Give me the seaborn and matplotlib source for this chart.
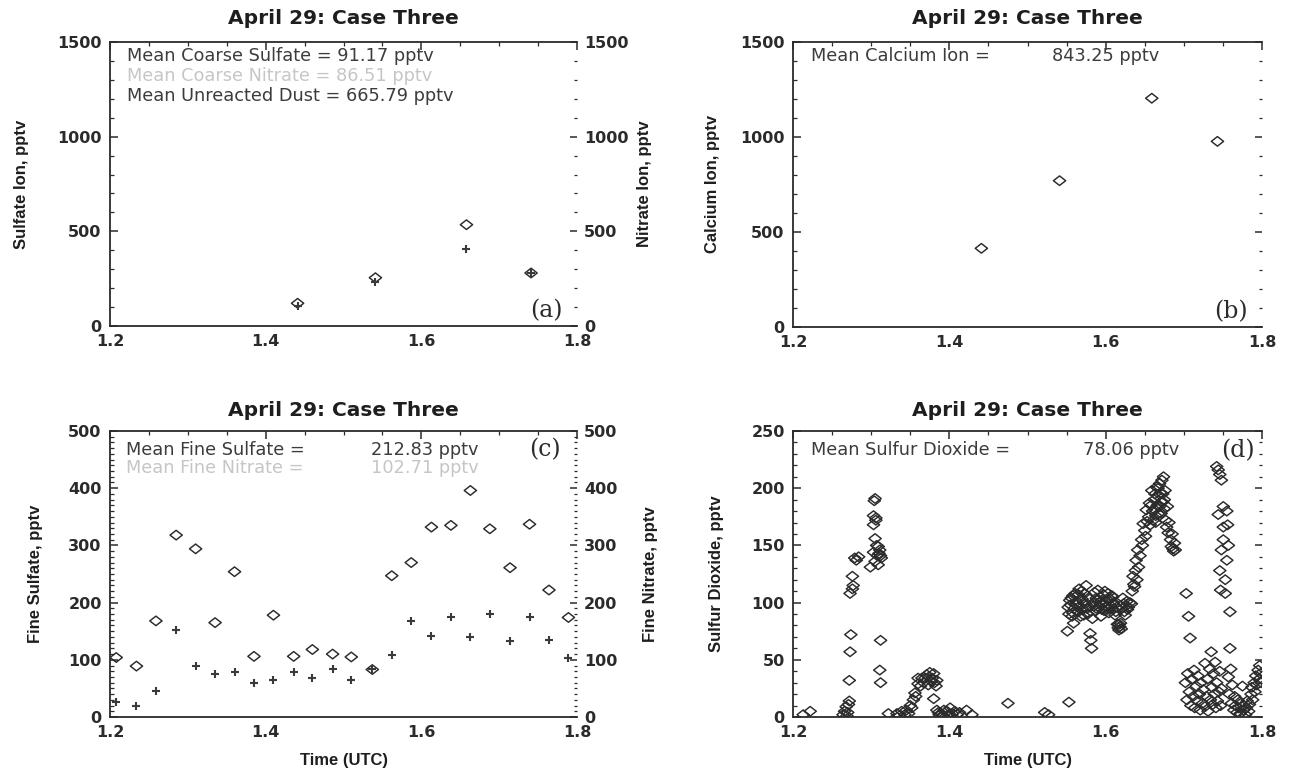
import matplotlib
matplotlib.use("Agg")
import matplotlib.pyplot as plt
import seaborn as sns
from matplotlib.path import Path
from matplotlib.ticker import MultipleLocator, FixedLocator

# ---------------- data ----------------
title_text = "April 29: Case Three"
x_ticks = [1.2, 1.4, 1.6, 1.8]
x_tick_labels = ["1.2", "1.4", "1.6", "1.8"]

# (a) coarse particles
a_time = [1.441, 1.541, 1.658, 1.741]
a_sulfate = [120, 255, 535, 280]
a_nitrate = [105, 230, 405, 278]
a_lines = ["Mean Coarse Sulfate = 91.17 pptv",
           "Mean Coarse Nitrate = 86.51 pptv",
           "Mean Unreacted Dust = 665.79 pptv"]

# (b) calcium
b_time = [1.441, 1.541, 1.659, 1.743]
b_calcium = [414, 770, 1204, 977]
b_label = ["Mean Calcium Ion =", "843.25 pptv"]

# (c) fine particles
c_time = [1.208, 1.234, 1.259, 1.285, 1.310, 1.335, 1.360, 1.385, 1.410, 1.436,
          1.460, 1.486, 1.510, 1.537, 1.562, 1.587, 1.613, 1.638, 1.663, 1.688,
          1.714, 1.739, 1.764, 1.789]
c_sulfate = [104, 89, 168, 318, 294, 165, 254, 106, 178, 106,
             118, 110, 105, 83, 247, 270, 332, 335, 396, 329,
             261, 337, 222, 174]
c_nitrate = [26, 20, 45, 152, 90, 76, 78, 59, 65, 78,
             68, 84, 64, 84, 108, 168, 142, 175, 140, 180,
             133, 174, 134, 104]
c_label1 = ["Mean Fine Sulfate =", "212.83 pptv"]
c_label2 = ["Mean Fine Nitrate =", "102.71 pptv"]

# (d) sulfur dioxide
d_time = [
    1.213, 1.222,
    1.264, 1.266, 1.268, 1.270, 1.272, 1.271, 1.272, 1.273, 1.274, 1.273, 1.276, 1.277, 1.276, 1.279, 1.284, 1.281, 1.269,
    1.305, 1.303, 1.306, 1.303, 1.305, 1.309, 1.311, 1.303, 1.308, 1.313, 1.305, 1.309, 1.299, 1.310, 1.307, 1.312, 1.304, 1.306, 1.312, 1.311, 1.312,
    1.322, 1.333, 1.336, 1.339, 1.343, 1.345, 1.348, 1.350, 1.352, 1.354, 1.356, 1.357, 1.360, 1.360, 1.363, 1.365, 1.367, 1.369, 1.371, 1.373,
    1.374, 1.375, 1.377, 1.378, 1.380, 1.381, 1.383, 1.384, 1.380, 1.384, 1.387, 1.390, 1.393, 1.397, 1.399, 1.401, 1.404, 1.407, 1.410, 1.413,
    1.422, 1.429, 1.386, 1.392,
    1.475, 1.522, 1.527, 1.553,
    1.551, 1.553, 1.555, 1.556, 1.557, 1.559, 1.560, 1.561, 1.563, 1.564,
    1.566, 1.567, 1.568, 1.570, 1.571, 1.573, 1.574, 1.575, 1.577, 1.578,
    1.579, 1.580, 1.581, 1.582, 1.583, 1.584, 1.586, 1.587, 1.589, 1.590,
    1.591, 1.593, 1.594, 1.596, 1.597, 1.598, 1.600, 1.601, 1.603, 1.604,
    1.606, 1.607, 1.609, 1.610, 1.612, 1.614, 1.615, 1.616, 1.618, 1.619,
    1.620, 1.621, 1.623, 1.624, 1.626, 1.627, 1.629, 1.631,
    1.552, 1.554, 1.558, 1.562, 1.565, 1.569, 1.572, 1.576, 1.585, 1.588,
    1.592, 1.595, 1.599, 1.602, 1.605, 1.608, 1.611, 1.613, 1.617, 1.622,
    1.625, 1.628, 1.558, 1.565, 1.572, 1.588, 1.595, 1.602, 1.609, 1.617,
    1.633, 1.634, 1.635, 1.636, 1.637, 1.638, 1.639, 1.640, 1.641, 1.642,
    1.644, 1.646, 1.647, 1.648, 1.650, 1.651, 1.652, 1.653, 1.655, 1.656,
    1.657, 1.659, 1.660, 1.661, 1.662, 1.663, 1.664, 1.665, 1.666, 1.667,
    1.668, 1.669, 1.670, 1.671, 1.672, 1.673, 1.674, 1.675, 1.676, 1.677,
    1.678, 1.679, 1.680, 1.681, 1.683, 1.684, 1.685, 1.686, 1.687, 1.688,
    1.689,
    1.658, 1.663, 1.667, 1.671, 1.675, 1.664, 1.669, 1.673,
    1.702, 1.704, 1.705, 1.707, 1.709, 1.710, 1.712, 1.713, 1.714, 1.716,
    1.717, 1.718, 1.720, 1.721, 1.722, 1.724, 1.725, 1.727, 1.727, 1.729,
    1.730, 1.731, 1.733, 1.734, 1.735, 1.736, 1.737, 1.738, 1.739, 1.740,
    1.741, 1.742, 1.743, 1.745, 1.746, 1.747, 1.748,
    1.703, 1.706, 1.708,
    1.742, 1.744, 1.746, 1.748, 1.744, 1.7505, 1.755, 1.7505, 1.756, 1.7505,
    1.757, 1.748, 1.755, 1.746, 1.753, 1.747, 1.753, 1.759, 1.759,
    1.757, 1.758, 1.760, 1.761, 1.762, 1.764, 1.765, 1.766, 1.768, 1.769,
    1.770, 1.772, 1.773, 1.775, 1.776, 1.777, 1.779, 1.780, 1.781, 1.783,
    1.784, 1.786, 1.787, 1.788, 1.790, 1.791, 1.792, 1.793, 1.795, 1.796,
    1.797, 1.798, 1.799,
]
d_so2 = [
    2, 5,
    2, 5, 9, 4, 14, 11, 32, 57, 72, 108, 112, 115, 123, 139, 140, 137, 1,
    191, 176, 172, 168, 156, 149, 146, 144, 141, 139, 136, 133, 131, 143, 150, 141, 189, 174, 67, 41, 30,
    3, 3, 1, 5, 2, 6, 3, 10, 8, 15, 21, 18, 29, 34, 27, 34, 30, 34, 37, 28,
    35, 39, 31, 34, 38, 30, 27, 32, 16, 6, 2, 3, 6, 5, 2, 8, 3, 5, 2, 4,
    6, 2, 4, 1,
    12, 4, 2, 13,
    75, 90, 98, 104, 88, 82, 95, 108, 101, 92,
    112, 97, 88, 103, 94, 108, 99, 115, 90, 104,
    96, 73, 67, 60, 86, 100, 109, 93, 102, 111,
    96, 105, 88, 99, 107, 93, 101, 96, 108, 91,
    103, 97, 94, 100, 89, 96, 81, 78, 79, 82,
    77, 95, 99, 92, 97, 101, 96, 100,
    96, 102, 106, 98, 92, 110, 100, 95, 97, 104,
    100, 94, 110, 103, 95, 106, 98, 92, 76, 104,
    89, 94, 91, 107, 89, 95, 102, 94, 105, 81,
    99, 110, 123, 116, 114, 128, 137, 120, 146, 131,
    141, 155, 150, 169, 163, 158, 181, 171, 175, 187,
    168, 198, 180, 172, 190, 181, 176, 201, 185, 193,
    178, 184, 196, 178, 207, 188, 210, 190, 198, 172,
    166, 184, 161, 170, 155, 149, 160, 147, 145, 152,
    146,
    185, 195, 200, 188, 182, 170, 204, 195,
    30, 15, 38, 22, 10, 33, 18, 41, 8, 27,
    14, 36, 20, 6, 30, 12, 24, 47, 9, 18,
    33, 5, 42, 15, 57, 26, 11, 38, 20, 48,
    8, 30, 14, 22, 40, 10, 25,
    108, 88, 69,
    219, 216, 212, 207, 177, 184, 180, 166, 168, 155,
    150, 146, 137, 128, 120, 111, 108, 92, 60,
    35, 20, 42, 12, 28, 6, 18, 10, 4, 15,
    8, 3, 12, 27, 6, 10, 2, 8, 14, 5,
    11, 20, 26, 15, 30, 22, 36, 28, 41, 33,
    45, 38, 30,
]
d_label = ["Mean Sulfur Dioxide =", "78.06 pptv"]

# ---------------- style ----------------
sns.set_theme(style="white")
plt.rcParams["font.family"] = ["DejaVu Sans"]

W, H = 1297, 772
fig = plt.figure(figsize=(W / 100, H / 100), dpi=100)
fig.patch.set_facecolor("white")


def rect(l, r, t, b):
    return [l / W, 1 - b / H, (r - l) / W, (b - t) / H]


INK = "#2b2b2b"
TXT = "#3c3c3c"
FADED = "#c6c6c6"
diamond = Path([(-1, 0), (0, 0.78), (1, 0), (0, -0.78), (-1, 0)],
               [Path.MOVETO, Path.LINETO, Path.LINETO, Path.LINETO, Path.CLOSEPOLY])
tick_font = dict(fontsize=11.5, fontweight="bold", color="#222222")
note_size = 12.8


def style_axes(ax, ymax, ymaj, ymin):
    ax.set_xlim(1.2, 1.8)
    ax.set_ylim(0, ymax)
    ax.xaxis.set_major_locator(FixedLocator(x_ticks))
    ax.set_xticklabels(x_tick_labels, **tick_font)
    ax.xaxis.set_minor_locator(MultipleLocator(0.05))
    ax.yaxis.set_major_locator(MultipleLocator(ymaj))
    ax.yaxis.set_minor_locator(MultipleLocator(ymin))
    ax.set_yticks(ax.get_yticks())
    ax.set_yticklabels([f"{int(v)}" for v in ax.get_yticks()], **tick_font)
    ax.set_ylim(0, ymax)
    ax.tick_params(which="major", direction="in", length=6, width=1.1,
                   top=True, right=False, colors=INK, pad=6)
    ax.tick_params(which="minor", direction="in", length=3, width=0.9,
                   top=True, right=False, colors=INK)
    for s in ["left", "bottom", "top"]:
        ax.spines[s].set_color(INK)
        ax.spines[s].set_linewidth(1.3)
    ax.spines["right"].set_visible(False)
    ax.set_xlabel("")
    ax.set_ylabel("")
    ax.set_facecolor("white")


def right_ticks(ax, ymax, ymaj, ymin, labels):
    axr = ax.twinx()
    axr.set_ylim(0, ymax)
    axr.yaxis.set_major_locator(MultipleLocator(ymaj))
    axr.yaxis.set_minor_locator(MultipleLocator(ymin))
    axr.set_yticks(axr.get_yticks())
    if labels:
        axr.set_yticklabels([f"{int(v)}" for v in axr.get_yticks()], **tick_font)
    else:
        axr.set_yticklabels([])
    axr.set_ylim(0, ymax)
    axr.tick_params(which="major", direction="in", length=5, width=1.1,
                    colors=INK, pad=5)
    axr.tick_params(which="minor", direction="in", length=2.5, width=0.9, colors=INK)
    for s in axr.spines.values():
        s.set_visible(False)
    axr.set_ylabel("")
    return axr


def diamonds(ax, x, y, s=78):
    sns.scatterplot(x=x, y=y, ax=ax, marker=diamond, s=s, facecolor="none",
                    edgecolor=INK, linewidth=1.05, legend=False, zorder=3)


def pluses(ax, x, y):
    sns.scatterplot(x=x, y=y, ax=ax, marker="+", s=26, color="#3a3a3a",
                    linewidth=1.5, legend=False, zorder=3)


ax_a = fig.add_axes(rect(110, 577, 42, 326))
ax_b = fig.add_axes(rect(793, 1262, 42, 327))
ax_c = fig.add_axes(rect(110, 577, 431, 717))
ax_d = fig.add_axes(rect(793, 1262, 431, 717))

# (a)
diamonds(ax_a, a_time, a_sulfate)
style_axes(ax_a, 1500, 500, 100)
axr_a = right_ticks(ax_a, 1500, 500, 100, True)
pluses(axr_a, a_time, a_nitrate)
axr_a.set_xlim(1.2, 1.8)
axr_a.set_ylim(0, 1500)
axr_a.set_ylabel("")
ax_a.text(0.036, 0.951, a_lines[0], transform=ax_a.transAxes, fontsize=note_size, color=TXT, va="center")
ax_a.text(0.036, 0.880, a_lines[1], transform=ax_a.transAxes, fontsize=note_size, color=FADED, va="center")
ax_a.text(0.036, 0.810, a_lines[2], transform=ax_a.transAxes, fontsize=note_size, color=TXT, va="center")
ax_a.text(0.97, 0.015, "(a)", transform=ax_a.transAxes, fontsize=17, family="DejaVu Serif",
          color=INK, ha="right", va="bottom")

# (b)
diamonds(ax_b, b_time, b_calcium)
style_axes(ax_b, 1500, 500, 100)
right_ticks(ax_b, 1500, 500, 100, False)
ax_b.text(0.038, 0.951, b_label[0], transform=ax_b.transAxes, fontsize=note_size, color=TXT, va="center")
ax_b.text(0.552, 0.951, b_label[1], transform=ax_b.transAxes, fontsize=note_size, color=TXT, va="center")
ax_b.text(0.97, 0.015, "(b)", transform=ax_b.transAxes, fontsize=17, family="DejaVu Serif",
          color=INK, ha="right", va="bottom")

# (c)
diamonds(ax_c, c_time, c_sulfate)
style_axes(ax_c, 500, 100, 10)
axr_c = right_ticks(ax_c, 500, 100, 10, True)
pluses(axr_c, c_time, c_nitrate)
axr_c.set_xlim(1.2, 1.8)
axr_c.set_ylim(0, 500)
axr_c.set_ylabel("")
ax_c.text(0.034, 0.934, c_label1[0], transform=ax_c.transAxes, fontsize=note_size, color=TXT, va="center")
ax_c.text(0.559, 0.934, c_label1[1], transform=ax_c.transAxes, fontsize=note_size, color=TXT, va="center")
ax_c.text(0.034, 0.871, c_label2[0], transform=ax_c.transAxes, fontsize=note_size, color=FADED, va="center")
ax_c.text(0.559, 0.871, c_label2[1], transform=ax_c.transAxes, fontsize=note_size, color=FADED, va="center")
ax_c.text(0.965, 0.975, "(c)", transform=ax_c.transAxes, fontsize=17, family="DejaVu Serif",
          color=INK, ha="right", va="top")

# (d)
diamonds(ax_d, d_time, d_so2)
style_axes(ax_d, 250, 50, 10)
right_ticks(ax_d, 250, 50, 10, False)
ax_d.text(0.038, 0.934, d_label[0], transform=ax_d.transAxes, fontsize=note_size, color=TXT, va="center")
ax_d.text(0.618, 0.934, d_label[1], transform=ax_d.transAxes, fontsize=note_size, color=TXT, va="center")
ax_d.text(0.985, 0.97, "(d)", transform=ax_d.transAxes, fontsize=17, family="DejaVu Serif",
          color=INK, ha="right", va="top")

# titles and axis labels
title_font = dict(fontsize=14.5, fontweight="bold", color="#1e1e1e", ha="center", va="center")
fig.text((110 + 577) / 2 / W, 1 - 19 / H, title_text, **title_font)
fig.text((793 + 1262) / 2 / W, 1 - 19 / H, title_text, **title_font)
fig.text((110 + 577) / 2 / W, 1 - 410 / H, title_text, **title_font)
fig.text((793 + 1262) / 2 / W, 1 - 410 / H, title_text, **title_font)

lab_font = dict(fontsize=12, fontweight="bold", color="#1e1e1e", family="Liberation Sans",
                ha="center", va="center", rotation=90)
fig.text(22 / W, 1 - 184 / H, "Sulfate Ion, pptv", **lab_font)
fig.text(645 / W, 1 - 184 / H, "Nitrate Ion, pptv", **lab_font)
fig.text(713 / W, 1 - 184 / H, "Calcium Ion, pptv", **lab_font)
fig.text(36 / W, 1 - 574 / H, "Fine Sulfate, pptv", **lab_font)
fig.text(651 / W, 1 - 574 / H, "Fine Nitrate, pptv", **lab_font)
fig.text(716 / W, 1 - 574 / H, "Sulfur Dioxide, pptv", **lab_font)

xl_font = dict(fontsize=12, fontweight="bold", color="#1e1e1e", family="Liberation Sans",
               ha="center", va="center")
fig.text((110 + 577) / 2 / W, 1 - 760 / H, "Time (UTC)", **xl_font)
fig.text((793 + 1262) / 2 / W, 1 - 760 / H, "Time (UTC)", **xl_font)

fig.savefig("out.png", dpi=100, facecolor="white")
